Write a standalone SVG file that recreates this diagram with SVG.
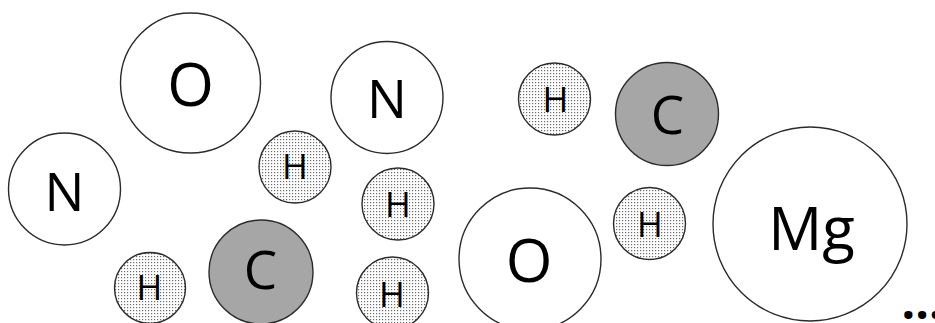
<svg xmlns="http://www.w3.org/2000/svg" width="935" height="323" viewBox="0 0 935 323">
<defs>
<pattern id="dots" width="3" height="3" patternUnits="userSpaceOnUse">
<rect width="3" height="3" fill="#ffffff"/>
<rect x="1" y="1" width="1.2" height="1.2" fill="#6a6a6a"/>
</pattern>
</defs>
<style>
.a{stroke:#2b2b2b;stroke-width:1.4}
.w{fill:#ffffff}
.g{fill:#a6a6a6}
.h{fill:url(#dots)}
text{font-family:"Open Sans","Noto Sans",sans-serif;fill:#000;text-anchor:middle}
.big{font-size:60px}
.mid{font-size:53px}
.sm{font-size:35px}
</style>
<rect width="935" height="323" fill="#ffffff"/>
<g id="O1"><circle class="a w" cx="190.5" cy="83" r="70"/><text class="big" x="190.5" y="106">O</text></g>
<g id="N1"><circle class="a w" cx="64.5" cy="189" r="56"/><text class="mid" x="64.5" y="211">N</text></g>
<g id="N2"><circle class="a w" cx="387" cy="97.5" r="56"/><text class="mid" x="387" y="118">N</text></g>
<g id="H1"><circle class="a h" cx="554.5" cy="99" r="36"/><text class="sm" x="555.5" y="112">H</text></g>
<g id="C1"><circle class="a g" cx="667" cy="114" r="51.5"/><text class="mid" x="667.5" y="134">C</text></g>
<g id="Mg"><circle class="a w" cx="810" cy="224" r="97"/><text class="big" x="811.5" y="250">Mg</text></g>
<g id="H2"><circle class="a h" cx="649.5" cy="223.5" r="36"/><text class="sm" x="650" y="237">H</text></g>
<g id="H3"><circle class="a h" cx="295" cy="167" r="36"/><text class="sm" x="295" y="179">H</text></g>
<g id="H4"><circle class="a h" cx="398" cy="204" r="36"/><text class="sm" x="398" y="217">H</text></g>
<g id="H5"><circle class="a h" cx="392.5" cy="293" r="36"/><text class="sm" x="392" y="307">H</text></g>
<g id="H6"><circle class="a h" cx="150" cy="288" r="35.5"/><text class="sm" x="149.5" y="300">H</text></g>
<g id="C2"><circle class="a g" cx="261" cy="272" r="52"/><text class="mid" x="260.5" y="289">C</text></g>
<g id="O2"><circle class="a w" cx="530" cy="259" r="71"/><text class="big" x="529" y="282">O</text></g>
<g id="connectors"></g>
<text x="901.5" y="318.5" style="font-weight:bold;font-size:48px;text-anchor:start">...</text>
</svg>
